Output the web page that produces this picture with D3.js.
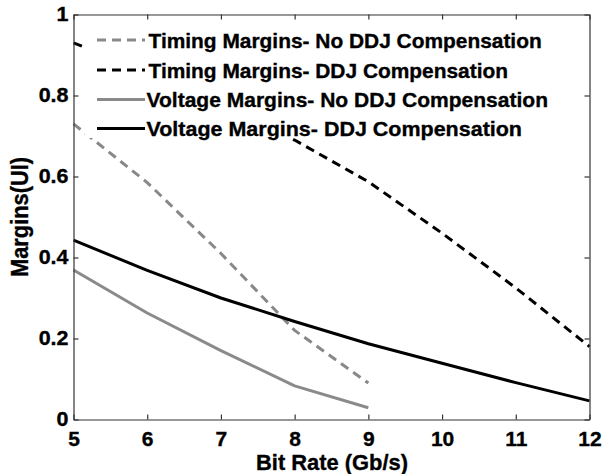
<!DOCTYPE html>
<html><head><meta charset="utf-8">
<script src="https://cdn.jsdelivr.net/npm/d3@7"></script>
<style>
html,body{margin:0;padding:0;background:#fff;}
svg text{font-family:"Liberation Sans",Arial,Helvetica,sans-serif;font-weight:bold;fill:#000;stroke:#000;stroke-width:0.35px;}
</style></head>
<body><svg id="c" width="604" height="474"></svg>
<script>
const xTicks = [5,6,7,8,9,10,11,12];
const yTicks = [0,0.2,0.4,0.6,0.8,1];
const yTickLabels = ["0","0.2","0.4","0.6","0.8","1"];
const seriesNames = ["Timing Margins- No DDJ Compensation","Timing Margins- DDJ Compensation","Voltage Margins- No DDJ Compensation","Voltage Margins- DDJ Compensation"];
const timingNoDDJx = [5,6,7,8,9];
const timingNoDDJ  = [0.73,0.585,0.41,0.22,0.09];
const timingDDJx = [5,6,7,8,9,10,11,12];
const timingDDJ  = [0.93,0.86,0.78,0.69,0.587,0.46,0.325,0.18];
const voltNoDDJx = [5,6,7,8,9];
const voltNoDDJ  = [0.369,0.263,0.17,0.083,0.029];
const voltDDJx = [5,6,7,8,9,10,11,12];
const voltDDJ  = [0.443,0.368,0.3,0.242,0.187,0.139,0.091,0.046];

const styles = [
  {color:"#888888", dash:"9,6"},
  {color:"#000000", dash:"9,6"},
  {color:"#8a8a8a", dash:null},
  {color:"#000000", dash:null}
];
const series = [
  {x:timingNoDDJx, y:timingNoDDJ},
  {x:timingDDJx, y:timingDDJ},
  {x:voltNoDDJx, y:voltNoDDJ},
  {x:voltDDJx, y:voltDDJ}
];

const L=73.5, R=589.5, T=14.5, B=419.5;
const svg = d3.select("#c");
const x = d3.scaleLinear().domain([5,12]).range([L,R]);
const y = d3.scaleLinear().domain([0,1]).range([B,T]);

const line = d3.line().x(d=>x(d[0])).y(d=>y(d[1]));
series.forEach((s,i)=>{
  const pts = s.x.map((v,j)=>[v,s.y[j]]);
  svg.append("path").attr("d",line(pts)).attr("fill","none")
    .attr("stroke",styles[i].color).attr("stroke-width",3)
    .attr("stroke-dasharray",styles[i].dash)
    .attr("stroke-linejoin","round");
});

// legend background
svg.append("rect").attr("x",85).attr("y",19).attr("width",500).attr("height",119).attr("fill","#fff");
const legY = [40,70,99.5,128.5];
const legEnd = [541.7,508,548,522];
seriesNames.forEach((n,i)=>{
  svg.append("line").attr("x1",97).attr("x2",145).attr("y1",legY[i]).attr("y2",legY[i])
    .attr("stroke",styles[i].color).attr("stroke-width",3).attr("stroke-dasharray",styles[i].dash);
  const st = i>=2 ? 146.5 : 148.5;
  svg.append("text").attr("x",st).attr("y",legY[i]+7.5).attr("font-size",20.5)
    .attr("textLength",legEnd[i]-st).attr("lengthAdjust","spacingAndGlyphs").text(n);
});

// axes
const axCol="#333";
const gx = svg.append("g").attr("transform",`translate(0,${B})`)
  .call(d3.axisBottom(x).tickValues(xTicks).tickSizeInner(-5).tickSizeOuter(0).tickPadding(12).tickFormat(d3.format("d")));
const gy = svg.append("g").attr("transform",`translate(${L},0)`)
  .call(d3.axisLeft(y).tickValues(yTicks).tickSizeInner(-5).tickSizeOuter(0).tickPadding(5).tickFormat((d,i)=>yTickLabels[i]));
const gx2 = svg.append("g").attr("transform",`translate(0,${T})`)
  .call(d3.axisTop(x).tickValues(xTicks).tickSizeInner(-5).tickSizeOuter(0).tickFormat(""));
const gy2 = svg.append("g").attr("transform",`translate(${R},0)`)
  .call(d3.axisRight(y).tickValues(yTicks).tickSizeInner(-5).tickSizeOuter(0).tickFormat(""));
[gx,gy,gx2,gy2].forEach(g=>{
  g.selectAll("path").attr("stroke",axCol).attr("stroke-width",1.2);
  g.selectAll("line").attr("stroke",axCol).attr("stroke-width",1.2);
  g.selectAll("text").attr("fill","#000").attr("font-family",null);
});
gx.selectAll("text").attr("font-size",21);
gy.selectAll("text").attr("font-size",19.5).each(function(){
  const w=this.getComputedTextLength();
  d3.select(this).attr("textLength",w*1.1).attr("lengthAdjust","spacingAndGlyphs");
});

svg.append("text").attr("x",256).attr("y",469.5).attr("font-size",22)
  .attr("textLength",152).attr("lengthAdjust","spacingAndGlyphs").text("Bit Rate (Gb/s)");
svg.append("text").attr("transform",`translate(27.5,277) rotate(-90)`).attr("font-size",23)
  .attr("textLength",120).attr("lengthAdjust","spacingAndGlyphs").text("Margins(UI)");
</script></body></html>
